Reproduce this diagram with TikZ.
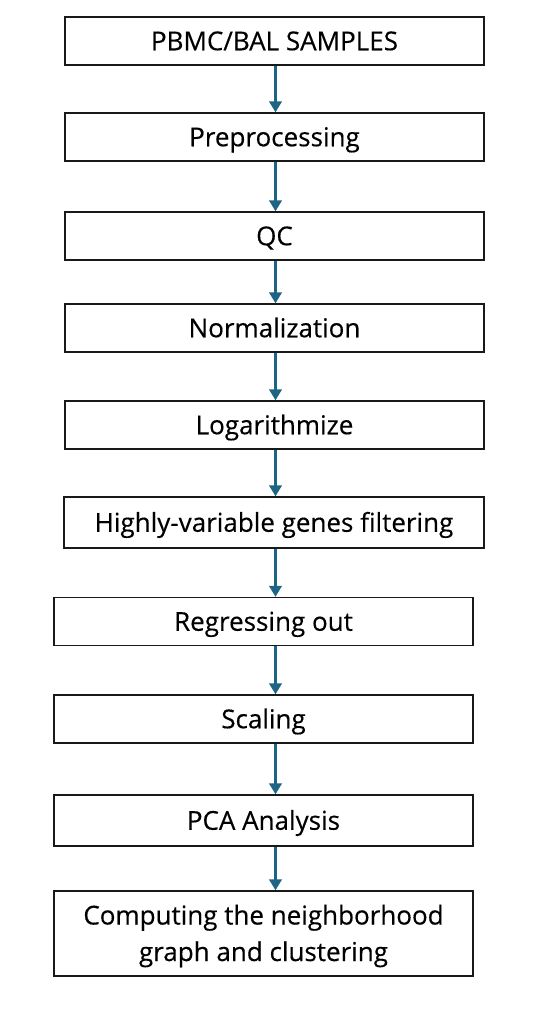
\documentclass[tikz,border=0pt]{standalone}
\usepackage{fontspec}
\newfontfamily\boxfont[FakeBold=0.35]{Open Sans}
\usetikzlibrary{arrows.meta}
\definecolor{arrowblue}{HTML}{1D6485}
\tikzset{
  stepbox/.style={draw=black!90, line width=1.4pt, rectangle, minimum width=419pt, minimum height=48pt, inner sep=0pt, align=center, text height=18.5pt, text depth=0pt, font=\boxfont\fontsize{26}{36.5}\selectfont},
  flow/.style={draw=arrowblue, line width=2.6pt, -{Triangle[width=12.5pt,length=11pt]}}
}
\begin{document}
\begin{tikzpicture}[x=1pt,y=-1pt]
\useasboundingbox (0,0) rectangle (535,1010);
\node[stepbox] (b1) at (274.5,41) {PBMC/BAL SAMPLES};
\node[stepbox] (b2) at (274.5,137) {Preprocessing};
\node[stepbox] (b3) at (274.5,236) {QC};
\node[stepbox] (b4) at (274.5,328) {Normalization};
\node[stepbox] (b5) at (274.5,425) {Logarithmize};
\node[stepbox, minimum width=420pt, minimum height=51pt] (b6) at (274,522.5) {Highly-variable genes filtering};
\node[stepbox] (b7) at (263.5,621.5) {Regressing out};
\node[stepbox] (b8) at (263.5,719) {Scaling};
\node[stepbox, minimum height=51pt] (b9) at (263.5,820.5) {PCA Analysis};
\node[stepbox, minimum height=85pt, text height=55pt] (b10) at (263.5,933.5) {Computing the neighborhood\\graph and clustering};
\coordinate (ax) at (275.5,0);
\foreach \a/\b in {b1/b2,b2/b3,b3/b4,b4/b5,b5/b6,b6/b7,b7/b8,b8/b9,b9/b10}
  \draw[flow] (\a.south -| ax) -- (\b.north -| ax);
\end{tikzpicture}
\end{document}
